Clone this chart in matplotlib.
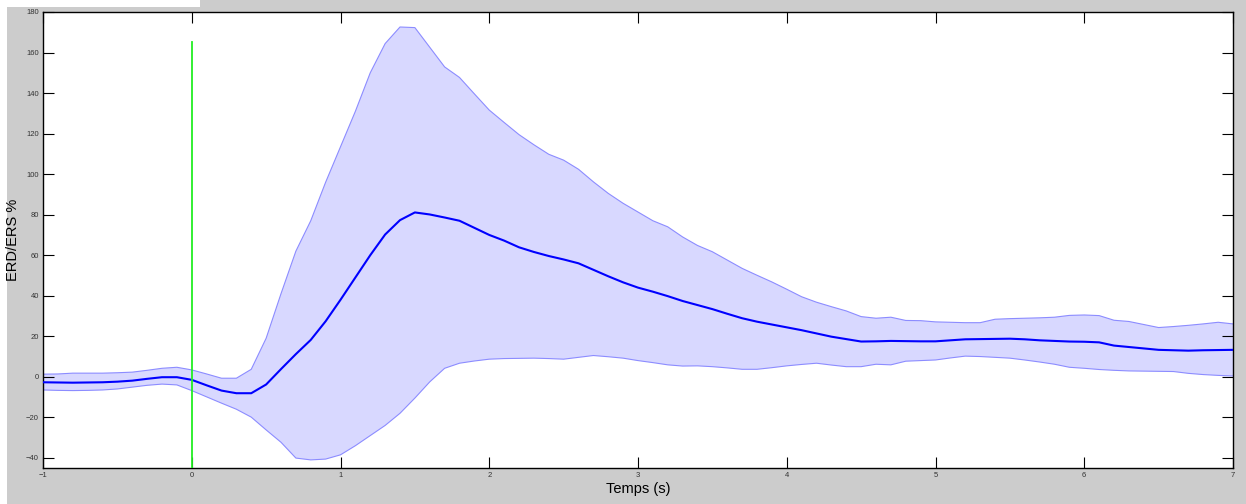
import numpy as np
import matplotlib
matplotlib.use("Agg")
import matplotlib.pyplot as plt
from matplotlib.patches import Rectangle

# time axis (s)
t = np.round(np.arange(-1.0, 7.0001, 0.1), 2)

mean_vals = [
    -2.7, -2.8, -2.9, -2.8, -2.7, -2.4, -1.9, -1.0, -0.2, -0.2,
    -1.5, -4.2, -6.8, -8.1, -8.1, -3.8, 3.8, 11.2, 18.2, 27.4,
    38.0, 49.0, 60.0, 70.2, 77.3, 81.1, 80.1, 78.6, 77.0, 73.5,
    70.0, 67.2, 63.9, 61.6, 59.6, 57.9, 56.0, 52.8, 49.6, 46.6,
    44.0, 42.0, 39.8, 37.4, 35.4, 33.4, 31.1, 28.9, 27.2, 25.8,
    24.4, 23.0, 21.4, 19.8, 18.6, 17.4, 17.5, 17.7, 17.6, 17.5,
    17.5, 18.0, 18.5, 18.6, 18.7, 18.8, 18.5, 18.0, 17.7, 17.4,
    17.3, 17.0, 15.4, 14.7, 14.0, 13.3, 13.1, 12.9, 13.1, 13.2,
    13.3,
]

upper_vals = [
    1.3, 1.4, 1.8, 1.8, 1.8, 2.0, 2.3, 3.2, 4.2, 4.7,
    3.4, 1.4, -0.7, -0.7, 3.7, 19.0, 41.0, 62.0, 77.0, 96.0,
    113.5, 131.0, 150.0, 164.4, 172.6, 172.3, 162.6, 152.9, 147.7, 139.6,
    131.6, 125.5, 119.5, 114.5, 109.8, 106.9, 102.4, 96.2, 90.5, 85.6,
    81.3, 77.0, 74.0, 69.0, 64.8, 61.7, 57.6, 53.5, 50.1, 46.8,
    43.2, 39.5, 36.8, 34.6, 32.5, 29.7, 28.9, 29.4, 27.8, 27.7,
    27.1, 26.9, 26.7, 26.7, 28.4, 28.7, 28.9, 29.1, 29.4, 30.3,
    30.5, 30.2, 27.9, 27.3, 25.8, 24.3, 24.8, 25.4, 26.1, 26.9,
    26.1,
]

lower_vals = [
    -6.5, -6.7, -6.8, -6.7, -6.5, -6.0, -5.1, -4.2, -3.6, -4.0,
    -6.8, -9.9, -13.0, -16.0, -19.9, -26.2, -32.3, -40.1, -41.0, -40.6,
    -38.5, -34.0, -29.0, -24.0, -18.0, -10.5, -2.5, 4.2, 6.7, 7.8,
    8.7, 9.0, 9.1, 9.2, 9.0, 8.7, 9.6, 10.5, 9.9, 9.2,
    8.0, 7.0, 5.9, 5.3, 5.4, 5.0, 4.4, 3.7, 3.7, 4.5,
    5.4, 6.1, 6.7, 5.8, 5.0, 5.0, 6.2, 5.9, 7.7, 8.0,
    8.3, 9.3, 10.2, 10.0, 9.6, 9.2, 8.3, 7.3, 6.2, 4.7,
    4.2, 3.6, 3.2, 2.9, 2.8, 2.7, 2.6, 1.7, 1.1, 0.7,
    0.4,
]

onset_x = [0, 0]
onset_y = [-45, 165]

xticks = list(range(-1, 8))
yticks = list(range(-40, 181, 20))

plt.rcParams['font.family'] = ['Liberation Sans', 'DejaVu Sans']

fig = plt.figure(figsize=(12.46, 5.04), dpi=100, facecolor='#cccccc')
W, H = 1246, 504
# white margins at left / top-left of the original screenshot
fig.patches.append(Rectangle((0, 0), 7 / W, 1, transform=fig.transFigure,
                             facecolor='white', edgecolor='none', zorder=-10))
fig.patches.append(Rectangle((0, 1 - 7 / H), 200 / W, 7 / H, transform=fig.transFigure,
                             facecolor='white', edgecolor='none', zorder=-10))

ax = fig.add_axes([43 / W, 36 / H, 1190 / W, 456 / H])
ax.set_facecolor('white')

ax.fill_between(t, lower_vals, upper_vals, facecolor='#d8d8ff', edgecolor='none', zorder=1)
ax.plot(t, upper_vals, color='#8c8cff', lw=0.8, zorder=2)
ax.plot(t, lower_vals, color='#8c8cff', lw=0.8, zorder=2)
ax.plot(t, mean_vals, color='#0000ff', lw=1.5, zorder=3)
ax.plot(onset_x, onset_y, color='#22ee22', lw=1.3, zorder=4)

ax.set_xlim(-1, 7)
ax.set_ylim(-45, 180)
ax.set_xticks(xticks)
ax.set_yticks(yticks)
ax.tick_params(direction='in', length=8, width=0.8, labelsize=5.5, colors='black',
               labelcolor='#333333', top=True, right=True, pad=3)
for s in ax.spines.values():
    s.set_linewidth(1.0)
    s.set_color('black')

ax.set_xlabel('Temps (s)', fontsize=10.5, labelpad=2)
ax.set_ylabel('ERD/ERS %', fontsize=10.5, labelpad=4)

fig.savefig('out.png', dpi=100, facecolor=fig.get_facecolor())
